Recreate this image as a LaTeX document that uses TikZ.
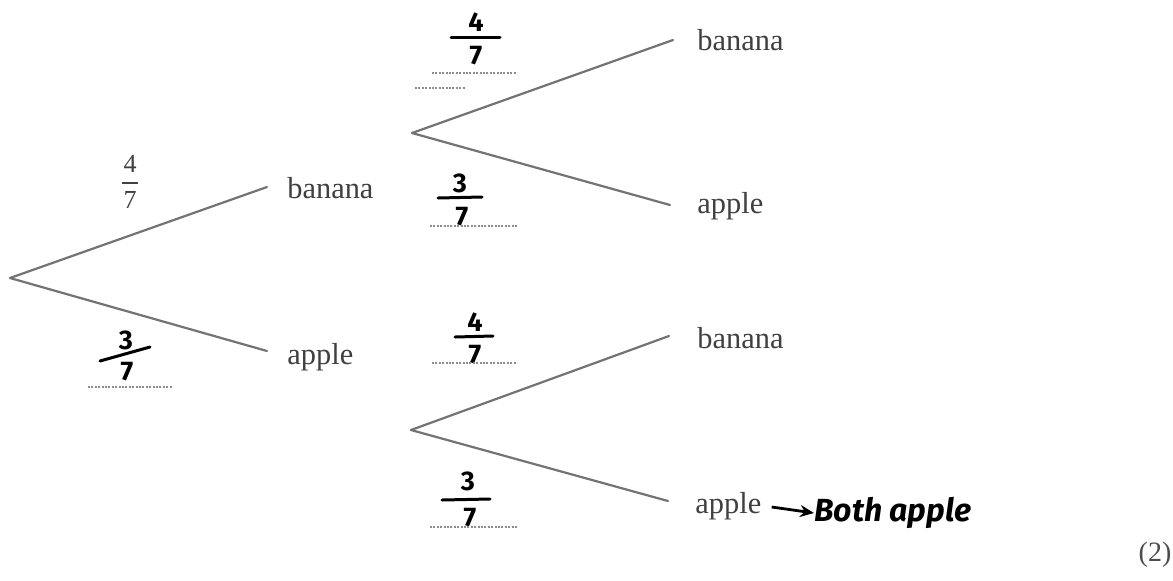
\documentclass[tikz,border=0pt]{standalone}
\usepackage{fontspec}
\setmainfont{Liberation Serif}
\newfontfamily\handfont{Fira Sans}
\usetikzlibrary{arrows.meta,calc}
\begin{document}
\begin{tikzpicture}[x=0.5pt,y=-0.5pt,
  branch/.style={draw=black!55, line width=1.1pt, line cap=round},
  lbl/.style={anchor=base west, inner sep=0pt, text=black!75, font=\fontsize{15.2}{18}\selectfont},
  hd/.style={inner sep=0pt, text=black, font=\handfont\bfseries\fontsize{13.5}{14}\selectfont},
  hbar/.style={draw=black, line width=1.5pt, line cap=round},
  ansline/.style={draw=black!45, line width=0.6pt, dash pattern=on 1pt off 0.7pt},
  pdig/.style={inner sep=0pt, text=black!75, font=\fontsize{13}{15}\selectfont},
]
\fill[white] (0,0) rectangle (1173,580);
\useasboundingbox (0,0) rectangle (1173,580);

% tree points
\coordinate (root) at (10,278);
\coordinate (f1) at (412,133);
\coordinate (f2) at (411,430);

% labels
\node[lbl] (b1) at (287,198) {banana};
\node[lbl] (a1) at (287,364) {apple};
\node[lbl] (b2) at (697,50) {banana};
\node[lbl] (a2) at (697,213) {apple};
\node[lbl] (b3) at (697,348) {banana};
\node[lbl] (a3) at (695,513) {apple};

% branches
\draw[branch] (root) -- ([shift={(-20,-11)}]b1.base west);
\draw[branch] (root) -- ([shift={(-20,-13)}]a1.base west);
\draw[branch] (f1) -- ([shift={(-24,-10)}]b2.base west);
\draw[branch] (f1) -- ([shift={(-27,-8)}]a2.base west);
\draw[branch] (f2) -- ([shift={(-28,-12)}]b3.base west);
\draw[branch] (f2) -- ([shift={(-27,-12)}]a3.base west);

% printed fraction 4/7
\node[pdig] (p0n) at (130,164) {4};
\draw[draw=black!75, line width=0.6pt] (122,183) -- (138,183);
\node[pdig] (p0d) at (130,200) {7};

% handwritten fraction: lower first branch 3/7
\node[hd] (n1) at (126,340) {3};
\draw[hbar] (100,361) -- (150,347);
\node[hd] (d1) at (127,372) {7};
\draw[ansline] (88,387) -- (172,387);

% top 4/7
\node[hd] (n2) at (476,22) {4};
\draw[hbar] (451,37) -- (500,37);
\node[hd] (d2) at (476,56) {7};
\draw[ansline] (432,73) -- (517,73);
\draw[ansline] (415,88) -- (466,88);

% top 3/7
\node[hd] (n3) at (460,183) {3};
\draw[hbar] (438,198) -- (482,197);
\node[hd] (d3) at (462,217) {7};
\draw[ansline] (430,226) -- (517,226);

% lower 4/7
\node[hd] (n4) at (475,322) {4};
\draw[hbar] (455,337) -- (493,336);
\node[hd] (d4) at (475,355) {7};
\draw[ansline] (432,363) -- (517,363);

% lower 3/7
\node[hd] (n5) at (468,481) {3};
\draw[hbar] (442,500) -- (490,499);
\node[hd] (d5) at (470,518) {7};
\draw[ansline] (430,527) -- (517,527);

% handwritten answer
\node[hd, anchor=base west, font=\handfont\bfseries\itshape\fontsize{16}{16}\selectfont] (both) at (814,521) {Both apple};
\draw[line width=1.4pt, -{Stealth[length=7pt,width=6pt]}] ([xshift=5pt,yshift=3pt]a3.base east) -- ([yshift=4pt]both.base west);

% marks
\node[inner sep=0pt, text=black!70, font=\fontsize{14}{16}\selectfont] (marks) at (1155,555) {(2)};
\end{tikzpicture}
\end{document}
